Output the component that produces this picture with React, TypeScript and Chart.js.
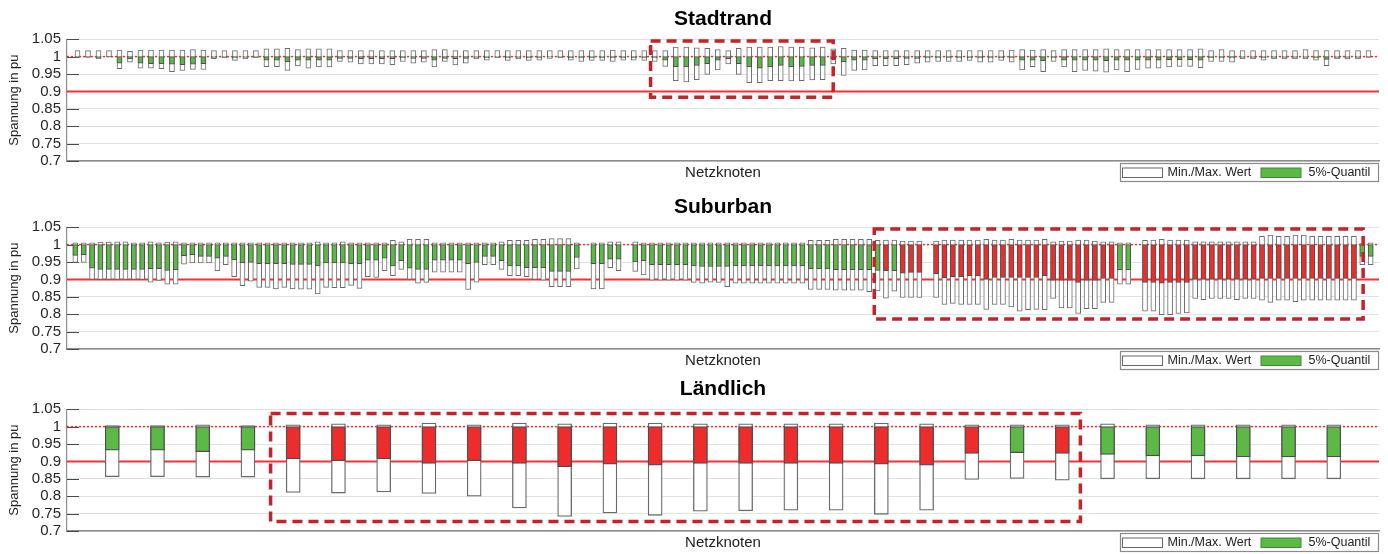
import React, { useEffect, useRef } from "react";
import { Chart, registerables } from "chart.js";

Chart.register(...registerables);

// ---------------- DATA ----------------
const yTicksMin = 0.7;
const yTicksMax = 1.05;
const yTickStep = 0.05;
const lowerLimit = 0.9;
const nominal = 1.0;

const xAxisLabel = "Netzknoten";
const yAxisLabel = "Spannung in pu";
const legendLabels = ["Min./Max. Wert", "5%-Quantil"];

// Stadtrand: 124 nodes
const stadtrandMax = [
  1.017, 1.017, 1.017, 1.017, 1.019, 1.015, 1.019, 1.019, 1.019, 1.019,
  1.019, 1.020, 1.019, 1.017, 1.017, 1.017, 1.017, 1.017, 1.022, 1.022,
  1.024, 1.020, 1.022, 1.022, 1.022, 1.017, 1.017, 1.017, 1.017, 1.017,
  1.017, 1.017, 1.017, 1.017, 1.020, 1.020, 1.017, 1.017, 1.017, 1.017,
  1.017, 1.017, 1.017, 1.017, 1.017, 1.017, 1.017, 1.017, 1.017, 1.017,
  1.017, 1.019, 1.017, 1.017, 1.017, 1.017, 1.017, 1.027, 1.027, 1.025,
  1.024, 1.020, 1.017, 1.024, 1.027, 1.027, 1.027, 1.029, 1.027, 1.027,
  1.025, 1.027, 1.022, 1.024, 1.019, 1.019, 1.017, 1.017, 1.017, 1.017,
  1.017, 1.017, 1.017, 1.017, 1.017, 1.017, 1.017, 1.017, 1.017, 1.019,
  1.020, 1.019, 1.020, 1.017, 1.020, 1.020, 1.020, 1.020, 1.022, 1.020,
  1.020, 1.020, 1.020, 1.020, 1.020, 1.020, 1.020, 1.022, 1.017, 1.020,
  1.017, 1.017, 1.017, 1.017, 1.017, 1.017, 1.017, 1.020, 1.017, 1.017,
  1.017, 1.017, 1.017, 1.017,
];
const stadtrandMin = [
  0.998, 0.998, 0.993, 0.999, 0.965, 0.984, 0.967, 0.967, 0.965, 0.957,
  0.960, 0.963, 0.963, 0.994, 0.996, 0.989, 0.993, 0.996, 0.971, 0.971,
  0.960, 0.973, 0.967, 0.970, 0.970, 0.986, 0.984, 0.979, 0.979, 0.979,
  0.977, 0.986, 0.981, 0.984, 0.970, 0.986, 0.976, 0.981, 0.993, 0.990,
  0.996, 0.989, 0.993, 0.989, 0.990, 0.995, 0.996, 0.990, 0.986, 0.989,
  0.989, 0.986, 0.990, 0.990, 0.989, 0.986, 0.972, 0.931, 0.927, 0.934,
  0.949, 0.962, 0.979, 0.949, 0.925, 0.925, 0.931, 0.931, 0.930, 0.931,
  0.933, 0.934, 0.979, 0.946, 0.960, 0.962, 0.974, 0.974, 0.974, 0.977,
  0.981, 0.984, 0.986, 0.986, 0.986, 0.989, 0.984, 0.984, 0.989, 0.984,
  0.962, 0.971, 0.957, 0.986, 0.970, 0.957, 0.960, 0.958, 0.955, 0.962,
  0.957, 0.963, 0.967, 0.967, 0.970, 0.972, 0.972, 0.968, 0.986, 0.986,
  0.984, 0.993, 0.993, 0.990, 0.993, 0.993, 0.993, 0.993, 0.990, 0.974,
  0.993, 0.993, 0.993, 0.998,
];
const stadtrandQ5 = [
  0.999, 0.999, 0.997, 0.999, 0.981, 0.993, 0.981, 0.980, 0.980, 0.978,
  0.977, 0.978, 0.980, 0.998, 0.999, 0.996, 0.998, 0.999, 0.990, 0.990,
  0.985, 0.990, 0.990, 0.990, 0.990, 0.995, 0.995, 0.994, 0.994, 0.994,
  0.994, 0.996, 0.995, 0.995, 0.990, 0.995, 0.994, 0.995, 0.998, 0.997,
  0.999, 0.997, 0.998, 0.997, 0.997, 0.999, 0.999, 0.997, 0.996, 0.997,
  0.997, 0.996, 0.997, 0.997, 0.997, 0.996, 0.990, 0.971, 0.970, 0.975,
  0.980, 0.990, 0.994, 0.980, 0.970, 0.967, 0.970, 0.975, 0.970, 0.972,
  0.975, 0.975, 0.994, 0.985, 0.990, 0.990, 0.993, 0.993, 0.993, 0.995,
  0.995, 0.996, 0.996, 0.996, 0.996, 0.997, 0.996, 0.996, 0.997, 0.996,
  0.990, 0.990, 0.988, 0.996, 0.990, 0.990, 0.990, 0.990, 0.988, 0.990,
  0.990, 0.990, 0.990, 0.990, 0.991, 0.991, 0.991, 0.990, 0.996, 0.996,
  0.996, 0.998, 0.998, 0.997, 0.998, 0.998, 0.998, 0.998, 0.997, 0.992,
  0.998, 0.998, 0.998, 0.999,
];
const stadtrandCritical: number[] = [];
const stadtrandHighlight = [55.6, 73.0, 1.045, 0.883];

// Suburban: 156 node slots (null = no node)
const suburbanMax = [
  1.005, 1.005, 1.005, 1.007, 1.007, 1.008, 1.008, 1.005, 1.005, 1.008,
  1.005, 1.007, 1.008, 1.005, 1.005, 1.005, 1.005, 1.005, 1.005, 1.005,
  1.005, 1.005, 1.005, 1.005, 1.005, 1.005, 1.005, 1.005, 1.005, 1.008,
  1.005, 1.005, 1.008, 1.005, 1.005, 1.005, 1.005, 1.005, 1.012, 1.008,
  1.015, 1.015, 1.015, 1.005, 1.005, 1.005, 1.005, 1.005, 1.005, 1.005,
  1.005, 1.008, 1.012, 1.012, 1.012, 1.015, 1.015, 1.017, 1.017, 1.017,
  1.005, null, 1.005, 1.005, 1.008, 1.008, null, 1.008, 1.005, 1.005,
  1.005, 1.005, 1.005, 1.005, 1.005, 1.005, 1.005, 1.005, 1.005, 1.005,
  1.005, 1.005, 1.005, 1.005, 1.005, 1.005, 1.005, 1.005, 1.012, 1.012,
  1.012, 1.015, 1.015, 1.015, 1.015, 1.015, 1.012, 1.013, 1.013, 1.010,
  1.010, 1.010, null, 1.010, 1.013, 1.013, 1.013, 1.013, 1.013, 1.015,
  1.013, 1.013, 1.015, 1.013, 1.013, 1.013, 1.015, 1.008, 1.010, 1.010,
  1.013, 1.013, 1.010, 1.008, 1.008, 1.005, 1.005, null, 1.012, 1.013,
  1.015, 1.013, 1.013, 1.013, 1.008, 1.008, 1.008, 1.008, 1.008, 1.008,
  1.008, 1.008, 1.024, 1.027, 1.024, 1.024, 1.027, 1.027, 1.024, 1.024,
  1.024, 1.024, 1.024, 1.024, 1.003, 1.005,
];
const suburbanQ5 = [
  0.969, 0.971, 0.932, 0.929, 0.929, 0.929, 0.929, 0.929, 0.929, 0.931,
  0.931, 0.926, 0.927, 0.968, 0.971, 0.966, 0.966, 0.961, 0.966, 0.956,
  0.947, 0.949, 0.945, 0.945, 0.945, 0.945, 0.943, 0.943, 0.943, 0.939,
  0.947, 0.947, 0.947, 0.945, 0.945, 0.955, 0.955, 0.961, 0.939, 0.954,
  0.932, 0.929, 0.929, 0.955, 0.955, 0.955, 0.955, 0.945, 0.949, 0.966,
  0.966, 0.954, 0.939, 0.939, 0.934, 0.934, 0.934, 0.923, 0.923, 0.923,
  0.963, null, 0.945, 0.945, 0.958, 0.958, null, 0.950, 0.954, 0.942,
  0.942, 0.942, 0.942, 0.942, 0.939, 0.937, 0.937, 0.937, 0.937, 0.939,
  0.939, 0.939, 0.939, 0.939, 0.939, 0.939, 0.939, 0.939, 0.930, 0.930,
  0.930, 0.928, 0.928, 0.928, 0.928, 0.928, 0.926, 0.925, 0.925, 0.918,
  0.920, 0.920, null, 0.916, 0.905, 0.908, 0.908, 0.910, 0.910, 0.900,
  0.906, 0.906, 0.906, 0.906, 0.906, 0.906, 0.910, 0.897, 0.897, 0.897,
  0.891, 0.897, 0.897, 0.903, 0.903, 0.927, 0.927, null, 0.891, 0.891,
  0.889, 0.891, 0.891, 0.891, 0.900, 0.900, 0.900, 0.900, 0.900, 0.900,
  0.900, 0.900, 0.903, 0.903, 0.903, 0.903, 0.903, 0.903, 0.903, 0.903,
  0.903, 0.903, 0.903, 0.903, 0.966, 0.966,
];
const suburbanMin = [
  0.949, 0.949, 0.900, 0.900, 0.900, 0.900, 0.900, 0.900, 0.900, 0.892,
  0.897, 0.886, 0.886, 0.944, 0.947, 0.947, 0.947, 0.925, 0.942, 0.908,
  0.882, 0.895, 0.877, 0.877, 0.873, 0.877, 0.873, 0.872, 0.872, 0.858,
  0.877, 0.876, 0.876, 0.883, 0.874, 0.908, 0.906, 0.925, 0.911, 0.929,
  0.900, 0.889, 0.891, 0.921, 0.921, 0.921, 0.921, 0.871, 0.892, 0.942,
  0.942, 0.929, 0.911, 0.911, 0.908, 0.900, 0.898, 0.879, 0.879, 0.879,
  0.930, null, 0.873, 0.873, 0.934, 0.925, null, 0.923, 0.913, 0.898,
  0.898, 0.898, 0.898, 0.898, 0.891, 0.889, 0.892, 0.891, 0.879, 0.889,
  0.889, 0.889, 0.889, 0.889, 0.889, 0.889, 0.889, 0.889, 0.871, 0.871,
  0.871, 0.869, 0.869, 0.869, 0.869, 0.865, 0.867, 0.846, 0.866, 0.848,
  0.848, 0.848, null, 0.848, 0.828, 0.831, 0.828, 0.828, 0.828, 0.814,
  0.828, 0.828, 0.821, 0.809, 0.813, 0.814, 0.813, 0.845, 0.818, 0.818,
  0.802, 0.816, 0.816, 0.834, 0.834, 0.886, 0.886, null, 0.809, 0.809,
  0.799, 0.799, 0.802, 0.804, 0.845, 0.842, 0.845, 0.845, 0.845, 0.842,
  0.845, 0.845, 0.840, 0.834, 0.840, 0.840, 0.836, 0.840, 0.840, 0.840,
  0.840, 0.840, 0.840, 0.840, 0.942, 0.942,
];
const suburbanCritical = [
  98, 100, 101, 102, 104, 105, 106, 107, 108, 109, 110, 111, 112, 113, 114,
  115, 116, 117, 118, 119, 120, 121, 122, 123, 124, 125, 129, 130, 131, 132,
  133, 134, 135, 136, 137, 138, 139, 140, 141, 142, 143, 144, 145, 146, 147,
  148, 149, 150, 151, 152, 153, 154,
];
const suburbanHighlight = [96.6, 155.1, 1.045, 0.786];

// Ländlich: 28 nodes
const laendlichMax = [
  1.003, 1.003, 1.005, 1.003, 1.005, 1.008, 1.005, 1.010, 1.005, 1.010,
  1.008, 1.010, 1.010, 1.008, 1.008, 1.008, 1.008, 1.010, 1.008, 1.005,
  1.005, 1.005, 1.008, 1.005, 1.005, 1.005, 1.005, 1.005,
];
const laendlichQ5 = [
  0.932, 0.932, 0.928, 0.932, 0.907, 0.902, 0.907, 0.894, 0.902, 0.894,
  0.885, 0.892, 0.889, 0.894, 0.894, 0.894, 0.894, 0.892, 0.889, 0.923,
  0.925, 0.923, 0.920, 0.916, 0.916, 0.913, 0.913, 0.913,
];
const laendlichMin = [
  0.856, 0.856, 0.855, 0.855, 0.811, 0.809, 0.812, 0.808, 0.800, 0.766,
  0.742, 0.752, 0.745, 0.757, 0.758, 0.760, 0.760, 0.748, 0.760, 0.848,
  0.851, 0.846, 0.850, 0.850, 0.850, 0.850, 0.850, 0.850,
];
const laendlichCritical = [5, 6, 7, 8, 9, 10, 11, 12, 13, 14, 15, 16, 17, 18, 19, 20, 22];
const laendlichHighlight = [4.5, 22.4, 1.038, 0.727];

// ---------------- STYLE ----------------
const FONT = "'Liberation Sans', Arial, Helvetica, sans-serif";
const GREEN = "#5cb946";
const RED = "#ee2c2c";
const LIMIT_RED = "#ee3535";
const BOX_RED = "#c9212a";

type PanelProps = {
  title: string;
  max: (number | null)[];
  min: (number | null)[];
  q5: (number | null)[];
  critical: number[];
  highlight: number[];
  thickness: number;
  border: number;
  top: number;
};

const WIDTH = 1388;
const HEIGHT = 188;

const decorPlugin = {
  id: "decor",
  beforeDatasetsDraw(chart: any) {
    const { ctx, chartArea, scales } = chart;
    const y = scales.y;
    ctx.save();
    // inward tick marks
    ctx.strokeStyle = "#4a4a4a";
    ctx.lineWidth = 1;
    y.ticks.forEach((t: any) => {
      const py = Math.round(y.getPixelForValue(t.value)) + 0.5;
      ctx.beginPath();
      ctx.moveTo(chartArea.left, py);
      ctx.lineTo(chartArea.left + 12, py);
      ctx.stroke();
    });
    // limit lines
    ctx.beginPath();
    ctx.rect(chartArea.left, chartArea.top, chartArea.right - chartArea.left, chartArea.bottom - chartArea.top);
    ctx.clip();
    const p09 = y.getPixelForValue(lowerLimit);
    ctx.strokeStyle = LIMIT_RED;
    ctx.lineWidth = 2;
    ctx.setLineDash([]);
    ctx.beginPath();
    ctx.moveTo(chartArea.left, p09);
    ctx.lineTo(chartArea.right, p09);
    ctx.stroke();
    const p10 = y.getPixelForValue(nominal);
    ctx.lineWidth = 1.5;
    ctx.setLineDash([2, 2]);
    ctx.beginPath();
    ctx.moveTo(chartArea.left, p10);
    ctx.lineTo(chartArea.right, p10);
    ctx.stroke();
    ctx.restore();
  },
  afterDatasetsDraw(chart: any, _args: any, opts: any) {
    const { ctx, scales } = chart;
    const h = opts.highlight as number[];
    if (!h) return;
    const x0 = scales.x.getPixelForValue(h[0]);
    const x1 = scales.x.getPixelForValue(h[1]);
    const y0 = scales.y.getPixelForValue(h[2]);
    const y1 = scales.y.getPixelForValue(h[3]);
    ctx.save();
    ctx.strokeStyle = BOX_RED;
    ctx.lineWidth = 3.5;
    ctx.setLineDash([10, 6]);
    ctx.strokeRect(x0, y0, x1 - x0, y1 - y0);
    ctx.restore();
  },
  afterDraw(chart: any) {
    const { ctx, chartArea } = chart;
    const w = 259;
    const h = 19;
    const lx = chartArea.right - w;
    const ly = chartArea.bottom + 2;
    ctx.save();
    ctx.setLineDash([]);
    ctx.fillStyle = "#ffffff";
    ctx.fillRect(lx, ly, w, h);
    ctx.strokeStyle = "#8a8a8a";
    ctx.lineWidth = 1.2;
    ctx.strokeRect(lx + 0.5, ly + 0.5, w - 1, h - 1);
    ctx.fillStyle = "#ffffff";
    ctx.fillRect(lx + 2.5, ly + 5, 40, 9.5);
    ctx.strokeStyle = "#666";
    ctx.lineWidth = 1;
    ctx.strokeRect(lx + 2.5, ly + 5, 40, 9.5);
    ctx.font = `12.5px ${FONT}`;
    ctx.fillStyle = "#222";
    ctx.textAlign = "left";
    ctx.textBaseline = "middle";
    ctx.fillText(legendLabels[0], lx + 47.5, ly + h / 2 + 0.5);
    ctx.fillStyle = GREEN;
    ctx.fillRect(lx + 141, ly + 5, 40, 9.5);
    ctx.strokeStyle = "#3f8a3a";
    ctx.strokeRect(lx + 141, ly + 5, 40, 9.5);
    ctx.fillStyle = "#222";
    ctx.fillText(legendLabels[1], lx + 188.5, ly + h / 2 + 0.5);
    ctx.restore();
  },
};

function Panel(props: PanelProps) {
  const ref = useRef<HTMLCanvasElement | null>(null);
  useEffect(() => {
    if (!ref.current) return;
    const n = props.max.length;
    const labels = Array.from({ length: n + 2 }, (_, i) => String(i));
    const boxData: any[] = [null];
    const qData: any[] = [null];
    const qColors: string[] = [GREEN];
    for (let i = 0; i < n; i++) {
      const mx = props.max[i];
      const mn = props.min[i];
      const q = props.q5[i];
      boxData.push(mx == null || mn == null ? null : [mn, mx]);
      qData.push(q == null ? null : [q, nominal]);
      qColors.push(props.critical.includes(i + 1) ? RED : GREEN);
    }
    boxData.push(null);
    qData.push(null);
    qColors.push(GREEN);

    const chart = new Chart(ref.current, {
      type: "bar",
      data: {
        labels,
        datasets: [
          {
            label: legendLabels[1],
            data: qData,
            backgroundColor: qColors,
            borderColor: "#4d4d4d",
            borderWidth: props.border,
            borderSkipped: false,
            barThickness: props.thickness,
            grouped: false,
          } as any,
          {
            label: legendLabels[0],
            data: boxData,
            backgroundColor: "#ffffff",
            borderColor: "#6a6a6a",
            borderWidth: props.border,
            borderSkipped: false,
            barThickness: props.thickness,
            grouped: false,
          } as any,
        ],
      },
      options: {
        responsive: false,
        animation: false,
        devicePixelRatio: 1,
        events: [],
        layout: { padding: { left: 0, right: 9, top: 0, bottom: 0 } },
        plugins: {
          legend: { display: false },
          tooltip: { enabled: false },
          title: {
            display: true,
            text: props.title,
            fullSize: false,
            color: "#000",
            font: { family: FONT, size: 21, weight: "bold" },
            padding: { top: 7, bottom: 7 },
          },
          decor: { highlight: props.highlight },
        } as any,
        scales: {
          x: {
            type: "category",
            offset: false,
            grid: { display: false },
            ticks: { display: false },
            border: { display: true, color: "#8c8c8c", width: 1.5 },
            title: {
              display: true,
              text: xAxisLabel,
              color: "#222",
              font: { family: FONT, size: 15 },
              padding: { top: 0, bottom: 6 },
            },
            afterFit: (s: any) => {
              s.height = 27;
            },
          },
          y: {
            min: yTicksMin,
            max: yTicksMax,
            ticks: {
              stepSize: yTickStep,
              autoSkip: false,
              padding: 6,
              color: "#262626",
              font: { family: FONT, size: 15 },
              callback: (v: any) => String(Math.round(Number(v) * 100) / 100),
            },
            grid: { color: "#e2e2e2", lineWidth: 1, drawTicks: false },
            border: { display: true, color: "#8c8c8c", width: 1.2 },
            title: {
              display: true,
              text: yAxisLabel,
              color: "#222",
              font: { family: FONT, size: 13 },
              padding: { top: 7, bottom: 0 },
            },
            afterFit: (s: any) => {
              s.width = 67;
            },
          },
        } as any,
      },
      plugins: [decorPlugin as any],
    });
    return () => chart.destroy();
  }, []);
  return (
    <div style={{ position: "absolute", left: 0, top: props.top, width: WIDTH, height: HEIGHT }}>
      <canvas ref={ref} width={WIDTH} height={HEIGHT} style={{ display: "block" }} />
    </div>
  );
}

export default function App() {
  return (
    <div
      style={{
        position: "absolute",
        left: 0,
        top: 0,
        width: WIDTH,
        height: 554,
        overflow: "hidden",
        background: "#ffffff",
      }}
    >
      <Panel
        title="Stadtrand"
        max={stadtrandMax}
        min={stadtrandMin}
        q5={stadtrandQ5}
        critical={stadtrandCritical}
        highlight={stadtrandHighlight}
        thickness={5}
        border={1}
        top={0}
      />
      <Panel
        title="Suburban"
        max={suburbanMax}
        min={suburbanMin}
        q5={suburbanQ5}
        critical={suburbanCritical}
        highlight={suburbanHighlight}
        thickness={5}
        border={1}
        top={188}
      />
      <Panel
        title="Ländlich"
        max={laendlichMax}
        min={laendlichMin}
        q5={laendlichQ5}
        critical={laendlichCritical}
        highlight={laendlichHighlight}
        thickness={14}
        border={1.3}
        top={370}
      />
    </div>
  );
}
